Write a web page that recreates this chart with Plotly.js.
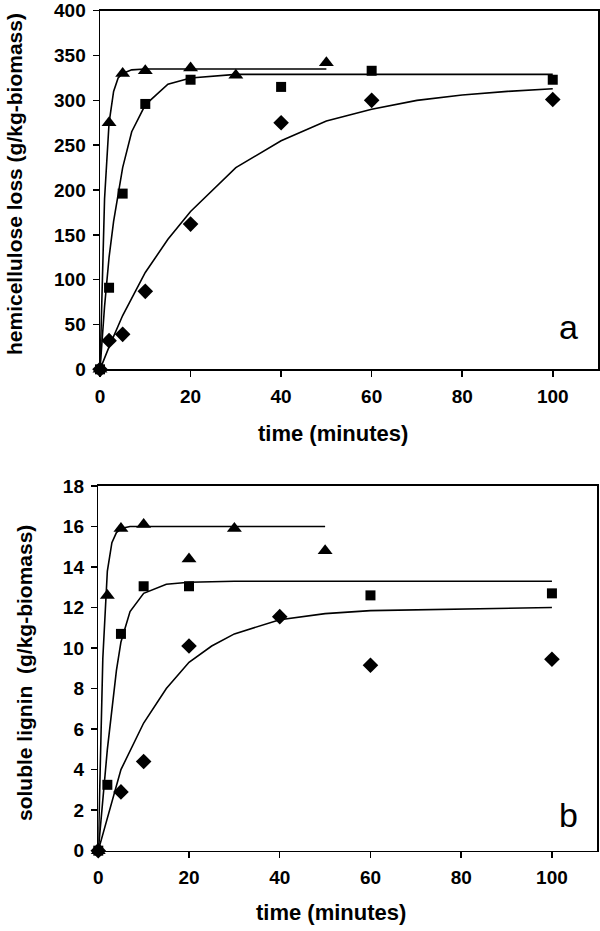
<!DOCTYPE html>
<html><head><meta charset="utf-8">
<script src="https://cdn.plot.ly/plotly-3.0.1.min.js"></script>
<style>body{margin:0;padding:0;background:#fff}#plot{width:600px;height:931px}</style>
</head><body><div id="plot"></div>
<script>
// Panel a: hemicellulose loss (g/kg-biomass)
const aTriX = [0, 2, 5, 10, 20, 30, 50];
const aTriY = [0, 275, 330, 333, 336, 328, 342];
const aSqX = [0, 2, 5, 10, 20, 40, 60, 100];
const aSqY = [0, 91, 196, 296, 323, 315, 333, 323];
const aDiaX = [0, 2, 5, 10, 20, 40, 60, 100];
const aDiaY = [0, 32, 39, 87, 162, 275, 300, 301];
// fitted curves
const aTriFitX = [0, 1, 2, 3, 4, 5, 7, 10, 20, 50];
const aTriFitY = [0, 190, 275, 310, 325, 330, 334, 335, 335, 335];
const aSqFitX = [0, 1, 2, 3, 5, 7, 10, 15, 20, 30, 40, 100];
const aSqFitY = [0, 70, 125, 165, 225, 265, 295, 318, 325, 329, 329, 329];
const aDiaFitX = [0, 2, 5, 10, 15, 20, 30, 40, 50, 60, 70, 80, 90, 100];
const aDiaFitY = [0, 25, 60, 108, 145, 176, 225, 255, 277, 290, 300, 306, 310, 313];

// Panel b: soluble lignin (g/kg-biomass)
const bTriX = [0, 2, 5, 10, 20, 30, 50];
const bTriY = [0, 12.6, 15.9, 16.1, 14.4, 15.9, 14.8];
const bSqX = [0, 2, 5, 10, 20, 60, 100];
const bSqY = [0, 3.25, 10.7, 13.05, 13.05, 12.6, 12.7];
const bDiaX = [0, 5, 10, 20, 40, 60, 100];
const bDiaY = [0, 2.9, 4.4, 10.1, 11.55, 9.15, 9.45];
const bTriFitX = [0, 1, 2, 3, 4, 5, 7, 10, 50];
const bTriFitY = [0, 9.5, 13.8, 15.2, 15.7, 15.9, 16.0, 16.0, 16.0];
const bSqFitX = [0, 2, 4, 5, 7, 10, 15, 20, 30, 100];
const bSqFitY = [0, 5.0, 8.9, 10.3, 11.8, 12.7, 13.15, 13.25, 13.3, 13.3];
const bDiaFitX = [0, 5, 10, 15, 20, 25, 30, 40, 50, 60, 100];
const bDiaFitY = [0, 4.0, 6.3, 8.0, 9.3, 10.1, 10.7, 11.4, 11.7, 11.85, 12.0];

const xTicks = [0, 20, 40, 60, 80, 100];

function line(x, y, xa, ya) {
  return {x, y, xaxis: xa, yaxis: ya, mode: 'lines', type: 'scatter',
    line: {color: '#000', width: 1.6}, hoverinfo: 'skip', showlegend: false};
}
function pts(x, y, xa, ya, sym, size) {
  return {x, y, xaxis: xa, yaxis: ya, mode: 'markers', type: 'scatter',
    marker: {symbol: sym, size: size, color: '#000'}, showlegend: false, cliponaxis: false};
}

const data = [
  line(aTriFitX, aTriFitY, 'x', 'y'),
  line(aSqFitX, aSqFitY, 'x', 'y'),
  line(aDiaFitX, aDiaFitY, 'x', 'y'),
  pts(aTriX, aTriY, 'x', 'y', 'triangle-up', 13),
  pts(aSqX, aSqY, 'x', 'y', 'square', 10),
  pts(aDiaX, aDiaY, 'x', 'y', 'diamond', 12),
  line(bTriFitX, bTriFitY, 'x2', 'y2'),
  line(bSqFitX, bSqFitY, 'x2', 'y2'),
  line(bDiaFitX, bDiaFitY, 'x2', 'y2'),
  pts(bTriX, bTriY, 'x2', 'y2', 'triangle-up', 13),
  pts(bSqX, bSqY, 'x2', 'y2', 'square', 10),
  pts(bDiaX, bDiaY, 'x2', 'y2', 'diamond', 12)
];

const FF = 'Liberation Sans, Arial, sans-serif';
const tickFont = {family: FF, size: 19, color: '#000', weight: 'bold'};
const axCommon = {showgrid: false, zeroline: false, showline: true, linecolor: '#000', linewidth: 1.5,
  mirror: true, ticks: 'outside', ticklen: 6, tickcolor: '#000', tickwidth: 1.5, tickfont: tickFont,
  ticklabelstandoff: 3};
const xTitleFont = {family: FF, size: 22, color: '#000', weight: 'bold'};
const yTitleFont = {family: FF, size: 21, color: '#000', weight: 'bold'};

const layout = {
  width: 600, height: 931,
  margin: {l: 0, r: 0, t: 0, b: 0},
  paper_bgcolor: '#fff', plot_bgcolor: '#fff',
  showlegend: false,
  xaxis: Object.assign({}, axCommon, {domain: [0.1667, 0.9967], range: [0, 110], tickvals: xTicks, anchor: 'y'}),
  yaxis: Object.assign({}, axCommon, {domain: [0.6033, 0.9885], range: [0, 400], dtick: 50, anchor: 'x'}),
  xaxis2: Object.assign({}, axCommon, {domain: [0.1638, 0.9955], range: [0, 110], tickvals: xTicks, anchor: 'y2'}),
  yaxis2: Object.assign({}, axCommon, {domain: [0.0863, 0.478], range: [0, 18], dtick: 2, anchor: 'x2'}),
  annotations: [
    {text: 'time (minutes)', xref: 'paper', yref: 'paper', x: 333/600, y: 1 - 433/931, showarrow: false,
      font: xTitleFont, xanchor: 'center', yanchor: 'middle'},
    {text: 'time (minutes)', xref: 'paper', yref: 'paper', x: 331/600, y: 1 - 912/931, showarrow: false,
      font: xTitleFont, xanchor: 'center', yanchor: 'middle'},
    {text: 'hemicellulose loss (g/kg-biomass)', xref: 'paper', yref: 'paper', x: 14/600, y: 1 - 184/931, showarrow: false, textangle: -90,
      font: yTitleFont, xanchor: 'center', yanchor: 'middle'},
    {text: 'soluble lignin  (g/kg-biomass)', xref: 'paper', yref: 'paper', x: 24/600, y: 1 - 673/931, showarrow: false, textangle: -90,
      font: yTitleFont, xanchor: 'center', yanchor: 'middle'},
    {text: 'a', xref: 'paper', yref: 'paper', x: 568/600, y: 1 - 327/931, showarrow: false,
      font: {family: FF, size: 34, color: '#000'}, xanchor: 'center', yanchor: 'middle'},
    {text: 'b', xref: 'paper', yref: 'paper', x: 568/600, y: 1 - 815/931, showarrow: false,
      font: {family: FF, size: 34, color: '#000'}, xanchor: 'center', yanchor: 'middle'}
  ]
};

Plotly.newPlot('plot', data, layout, {displayModeBar: false, staticPlot: true});
</script>
</body></html>
